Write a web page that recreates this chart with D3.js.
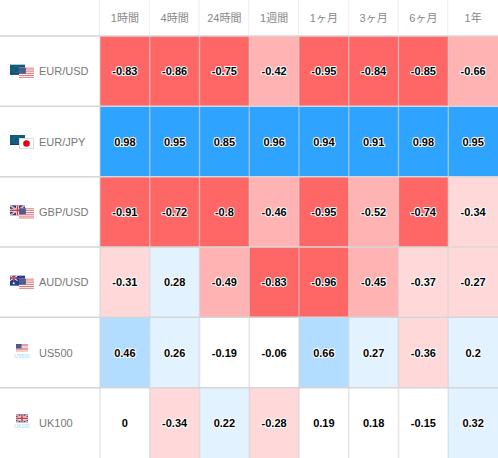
<!DOCTYPE html>
<html><head><meta charset="utf-8">
<script src="https://cdn.jsdelivr.net/npm/d3@7"></script>
<style>
html,body{margin:0;padding:0;background:#fff}
svg{display:block}
text{font-family:"Liberation Sans",Arial,sans-serif}
</style></head><body>
<svg id="c" width="498" height="458"></svg>
<script>
const periods = ["1時間","4時間","24時間","1週間","1ヶ月","3ヶ月","6ヶ月","1年"];
const instruments = ["EUR/USD","EUR/JPY","GBP/USD","AUD/USD","US500","UK100"];
const flagPairs = [["eu","us"],["eu","jp"],["gb","us"],["au","us"],["us"],["gb"]];
const indexTags = [null,null,null,null,"US500","UK100"];
const rowEurUsd = [-0.83,-0.86,-0.75,-0.42,-0.95,-0.84,-0.85,-0.66];
const rowEurJpy = [0.98,0.95,0.85,0.96,0.94,0.91,0.98,0.95];
const rowGbpUsd = [-0.91,-0.72,-0.8,-0.46,-0.95,-0.52,-0.74,-0.34];
const rowAudUsd = [-0.31,0.28,-0.49,-0.83,-0.96,-0.45,-0.37,-0.27];
const rowUs500 = [0.46,0.26,-0.19,-0.06,0.66,0.27,-0.36,0.2];
const rowUk100 = [0,-0.34,0.22,-0.28,0.19,0.18,-0.15,0.32];
const matrix = [rowEurUsd,rowEurJpy,rowGbpUsd,rowAudUsd,rowUs500,rowUk100];
const colorThresholds = [-0.7,-0.4,-0.2,0.2,0.4,0.7];
const colorRange = ["#ff6666","#ffb3b3","#ffd9d9","#ffffff","#e3f2ff","#b3ddff","#2ea3ff"];

(function(){
const svg = d3.select("#c");
const W = 498, H = 458, left = 100, headH = 36;
const x = d3.scaleBand().domain(d3.range(periods.length)).range([left,W]);
const y = d3.scaleBand().domain(d3.range(instruments.length)).range([headH,H]);
const color = d3.scaleThreshold().domain(colorThresholds).range(colorRange);

/* header */
const head = svg.append("g");
head.selectAll("text").data(periods).join("text")
  .attr("x",(d,i)=>x(i)+x.bandwidth()/2).attr("y",22)
  .attr("text-anchor","middle").attr("font-size",11).attr("fill","#888")
  .style("font-family","'Liberation Sans','Noto Sans CJK JP',sans-serif")
  .text(d=>d);
head.selectAll("line").data(d3.range(periods.length)).join("line")
  .attr("x1",i=>x(i)-0.5).attr("x2",i=>x(i)-0.5).attr("y1",0).attr("y2",headH)
  .attr("stroke","#eeeeee");

/* cells */
const cells = matrix.flatMap((r,ri)=>r.map((v,ci)=>({v,ri,ci})));
svg.append("g").selectAll("rect").data(cells).join("rect")
  .attr("x",d=>x(d.ci)).attr("y",d=>y(d.ri))
  .attr("width",x.bandwidth()).attr("height",y.bandwidth())
  .attr("fill",d=>color(d.v));
/* cell borders */
svg.append("g").selectAll("line").data(d3.range(periods.length)).join("line")
  .attr("x1",i=>x(i)).attr("x2",i=>x(i)).attr("y1",headH).attr("y2",H)
  .attr("stroke","#cfcfcf").attr("stroke-opacity",0.55).attr("stroke-width",1.5);
svg.append("g").selectAll("line").data(d3.range(instruments.length)).join("line")
  .attr("x1",0).attr("x2",W).attr("y1",i=>y(i)).attr("y2",i=>y(i))
  .attr("stroke","#d6d6d6").attr("stroke-width",1.5);

svg.append("g").selectAll("text").data(cells).join("text")
  .attr("x",d=>x(d.ci)+x.bandwidth()/2).attr("y",d=>y(d.ri)+y.bandwidth()/2+4)
  .attr("text-anchor","middle").attr("font-size",11).attr("font-weight",700)
  .attr("fill","#000").attr("stroke","#fff").attr("stroke-width",2)
  .attr("stroke-linejoin","round").attr("paint-order","stroke")
  .text(d=>d.v);

/* row labels */
svg.append("g").selectAll("text").data(instruments).join("text")
  .attr("x",39).attr("y",(d,i)=>y(i)+y.bandwidth()/2+4)
  .attr("font-size",11).attr("fill","#777").text(d=>d);

/* flags */
function flag(g,code,fx,fy,w,h){
  const f=g.append("g").attr("transform",`translate(${fx},${fy})`);
  const r=(a,b,c,d,col)=>f.append("rect").attr("x",a).attr("y",b).attr("width",c).attr("height",d).attr("fill",col);
  const l=(a,b,c,d,col,sw)=>f.append("line").attr("x1",a).attr("y1",b).attr("x2",c).attr("y2",d).attr("stroke",col).attr("stroke-width",sw);
  if(code==="us"){
    r(0,0,w,h,"#fff");
    const n=6; for(let i=0;i<n;i++) r(0,i*h/n,w,h/(2*n),"#d9716f");
    r(0,0,w*0.46,h*0.55,"#4f5a92");
  } else if(code==="eu"){
    r(0,0,w,h,"#0c5a7d");
    r(0,h-1,w,1,"#0a4464");
    f.append("circle").attr("cx",w*0.42).attr("cy",h*0.48).attr("r",h*0.32)
     .attr("fill","none").attr("stroke","#5c7f3c").attr("stroke-width",0.8).attr("stroke-dasharray","1 1");
  } else if(code==="jp"){
    r(0,0,w,h,"#fff");
    f.append("rect").attr("x",0.5).attr("y",0.5).attr("width",w-1).attr("height",h-1).attr("fill","none").attr("stroke","#ddd");
    f.append("circle").attr("cx",w/2).attr("cy",h/2).attr("r",h*0.3).attr("fill","#e8000f");
  } else if(code==="gb"){
    r(0,0,w,h,"#2e3a78");
    l(0,0,w,h,"#fff",1.6); l(w,0,0,h,"#fff",1.6);
    l(0,0,w,h,"#d23a45",.6); l(w,0,0,h,"#d23a45",.6);
    l(w/2,0,w/2,h,"#fff",3); l(0,h/2,w,h/2,"#fff",3);
    l(w/2,0,w/2,h,"#d23a45",1.6); l(0,h/2,w,h/2,"#d23a45",1.6);
  } else if(code==="au"){
    r(0,0,w,h,"#1f3f8f");
    l(0,0,w/2,h/2,"#fff",1); l(w/2,0,0,h/2,"#fff",1);
    l(w/4,0,w/4,h/2,"#e0404a",1.4); l(0,h/4,w/2,h/4,"#e0404a",1.4);
    f.append("circle").attr("cx",w/4).attr("cy",h*0.75).attr("r",1).attr("fill","#fff");
    f.append("circle").attr("cx",w*0.75).attr("cy",h*0.5).attr("r",1).attr("fill","#fff");
  }
}
flagPairs.forEach((p,i)=>{
  const cy=y(i)+y.bandwidth()/2;
  const g=svg.append("g");
  if(p.length===2){
    flag(g,p[0],10,cy-6.5,15,10);
    flag(g,p[1],19,cy-3.5,15,11);
  } else {
    flag(g,p[0],16,cy-8.5,12,8);
    g.append("text").attr("x",22).attr("y",cy+5.5).attr("text-anchor","middle")
     .attr("font-size",5).attr("fill","#8fdcf5").text(indexTags[i]);
  }
});
})();
</script></body></html>
